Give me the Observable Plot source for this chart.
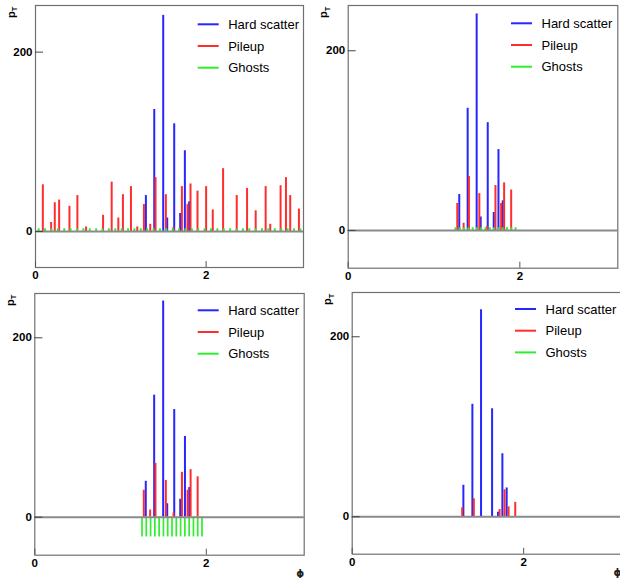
<!DOCTYPE html>
<html><head><meta charset="utf-8">
<script src="https://cdn.jsdelivr.net/npm/d3@7"></script>
<script src="https://cdn.jsdelivr.net/npm/@observablehq/plot@0.6"></script>
<style>
html,body{margin:0;padding:0;background:#fff;overflow:hidden;width:620px;height:578px}
#root{position:relative;width:620px;height:578px;overflow:hidden;font-family:"Liberation Sans",Arial,sans-serif}
.panel{position:absolute}
#overlay{position:absolute;left:0;top:0}
</style></head><body><div id="root"></div>
<script>
// ---- data ----
const hardPhi = [1.294, 1.392, 1.497, 1.544, 1.626, 1.696, 1.751, 1.801];
const hardPt  = [40, 136, 241, 15, 120, 20, 90, 33];

const pileupPhi = [0.086, 0.183, 0.226, 0.277, 0.398, 0.491, 0.593, 0.792, 0.893, 0.971, 1.025, 1.119, 1.193,
  1.271, 1.345, 1.407, 1.528, 1.618, 1.716, 1.782, 1.817, 1.899,
  2.000, 2.078, 2.199, 2.359, 2.480, 2.581, 2.698, 2.752, 2.873, 2.936, 2.986, 3.088];
const pileupPt = [52, 10, 32, 35, 28, 40, 5, 18, 55, 15, 41, 50, 5,
  30, 8, 60, 41, 4.5, 50, 30, 53, 45,
  50, 24, 70, 40, 48, 23, 50, 8, 51, 60, 40, 25];

const ghostPhiEvent = [0.037, 0.112, 0.187, 0.262, 0.337, 0.411, 0.486, 0.561, 0.636, 0.711, 0.785, 0.860,
  0.935, 1.010, 1.085, 1.159, 1.234, 1.309, 1.384, 1.459, 1.533, 1.608, 1.683, 1.758, 1.833, 1.907, 1.982,
  2.057, 2.132, 2.207, 2.281, 2.356, 2.431, 2.506, 2.581, 2.655, 2.730, 2.805, 2.880, 2.955, 3.029, 3.104];
const ghostPhiJet = [1.25, 1.30, 1.35, 1.40, 1.45, 1.50, 1.55, 1.60, 1.65, 1.70, 1.75, 1.80, 1.85, 1.90, 1.95];
const ghostPtTiny = 3;
const ghostPtShown = -22;

const corrHardPhi = [1.297, 1.402, 1.503, 1.632, 1.701, 1.752, 1.802];
const corrHardPt  = [35, 125, 230, 120, 5, 70, 32];
const corrPileupPhi = [1.283, 1.419, 1.719, 1.777, 1.824, 1.902];
const corrPileupPt  = [10, 20, 8, 30, 11, 16];

const legendLabels = ["Hard scatter", "Pileup", "Ghosts"];
const legendColors = ["#2626ff", "#ff2e2e", "#2eee2e"];
const xTicks = [0, 2];
const yTicks = [0, 200];
const jetRange = [1.25, 1.95];

// ---- tables ----
const zip = (phis, pts) => phis.map((phi, i) => ({phi, pt: Array.isArray(pts) ? pts[i] : pts}));
const hardAll = zip(hardPhi, hardPt);
const pileAll = zip(pileupPhi, pileupPt);
const pileJet = pileAll.filter(d => d.phi >= jetRange[0] && d.phi <= jetRange[1]);
const ghostsEvent = zip(ghostPhiEvent, ghostPtTiny);
const ghostsJetTiny = zip(ghostPhiJet, ghostPtTiny);
const ghostsJetShown = zip(ghostPhiJet, ghostPtShown);
const corrHard = zip(corrHardPhi, corrHardPt);
const corrPile = zip(corrPileupPhi, corrPileupPt);

// ---- layout ----
const panels = [
  {left:0, top:0, w:310, h:289, f:{l:35, r:303, t:5, b:267}, yDom:[-40.2, 252], hard:hardAll, pile:pileAll, ghost:ghostsEvent, gw:2, leg:{x:197.7, y:24.3}, phiLabel:false},
  {left:310, top:0, w:310, h:289, f:{l:347.7, r:617.3, t:5, b:267.7}, yDom:[-42, 250.4], hard:hardAll, pile:pileJet, ghost:ghostsJetTiny, gw:2, leg:{x:511, y:23.3}, phiLabel:false},
  {left:0, top:288, w:310, h:290, f:{l:34.3, r:303.7, t:293, b:554.7}, yDom:[-42.4, 249.4], hard:hardAll, pile:pileJet, ghost:ghostsJetShown, gw:1.7, leg:{x:197.7, y:310.3}, phiLabel:true},
  {left:310, top:288, w:312, h:290, f:{l:351.7, r:621, t:292, b:553.7}, yDom:[-41.6, 249.2], hard:corrHard, pile:corrPile, ghost:[], gw:2, leg:{x:515, y:309}, phiLabel:true}
];

const root = document.getElementById("root");
for (const p of panels) {
  const chart = Plot.plot({
    width: p.w, height: p.h,
    marginLeft: p.f.l - p.left, marginRight: p.left + p.w - p.f.r,
    marginTop: p.f.t - p.top, marginBottom: p.top + p.h - p.f.b,
    x: {domain: [0, Math.PI]},
    y: {domain: p.yDom},
    style: {fontFamily: '"Liberation Sans", Arial, sans-serif', fontWeight: "bold", fontSize: "11.5px", color: "#000", background: "transparent", overflow: "visible"},
    marks: [
      Plot.ruleX(p.hard, {x: "phi", y1: 0, y2: "pt", stroke: legendColors[0], strokeWidth: 2}),
      Plot.ruleX(p.pile, {x: "phi", y1: 0, y2: "pt", stroke: legendColors[1], strokeWidth: 2}),
      Plot.ruleX(p.ghost, {x: "phi", y1: 0, y2: "pt", stroke: legendColors[2], strokeWidth: p.gw}),
      Plot.ruleY([0], {stroke: "#8a8a8a", strokeWidth: 2}),
      Plot.frame({stroke: "#707070", strokeWidth: 1.2}),
      Plot.axisX({ticks: xTicks, tickFormat: d3.format("d"), tickSize: -6, tickPadding: 9.5, stroke: "#555", label: null, fill: "#000", fontWeight: "bold"}),
      Plot.axisY({ticks: yTicks, tickFormat: d3.format("d"), tickSize: -8, tickPadding: 11, stroke: "#444", label: null, fill: "#000", fontWeight: "bold"})
    ]
  });
  chart.classList.add("panel");
  chart.style.left = p.left + "px";
  chart.style.top = p.top + "px";
  root.appendChild(chart);
}

// ---- overlay: legends and axis titles ----
const NS = "http://www.w3.org/2000/svg";
const ov = document.createElementNS(NS, "svg");
ov.setAttribute("id", "overlay");
ov.setAttribute("width", 620); ov.setAttribute("height", 578);
root.appendChild(ov);
function el(tag, attrs, text) {
  const e = document.createElementNS(NS, tag);
  for (const k in attrs) e.setAttribute(k, attrs[k]);
  if (text != null) e.textContent = text;
  ov.appendChild(e);
  return e;
}
const rowGap = 21.7;
for (const p of panels) {
  legendLabels.forEach((lab, i) => {
    const y = p.leg.y + i * rowGap;
    el("line", {x1: p.leg.x, x2: p.leg.x + 21, y1: y, y2: y, stroke: legendColors[i], "stroke-width": 2});
    el("text", {x: p.leg.x + 30.5, y: y + 4.7, "font-size": 13, "font-family": '"Liberation Sans", Arial, sans-serif', fill: "#000"}, lab);
  });
  // p_T title
  const tx = p.f.l - 20.5, ty = p.f.t + 13;
  const t = el("text", {transform: `translate(${tx},${ty}) rotate(-90)`, "font-size": 11, "font-weight": "bold", "font-family": '"Liberation Sans", Arial, sans-serif', fill: "#000"});
  t.textContent = "p";
  const s = document.createElementNS(NS, "tspan");
  s.setAttribute("font-size", 7.5); s.setAttribute("dy", 2.5); s.textContent = "T";
  t.appendChild(s);
  if (p.phiLabel) {
    el("text", {x: p.f.r - 3.5, y: p.f.b + 22.5, "text-anchor": "middle", "font-size": 10, "font-weight": "bold", "font-family": '"DejaVu Sans", sans-serif', fill: "#222"}, "ϕ");
  }
}
</script>
</body></html>
